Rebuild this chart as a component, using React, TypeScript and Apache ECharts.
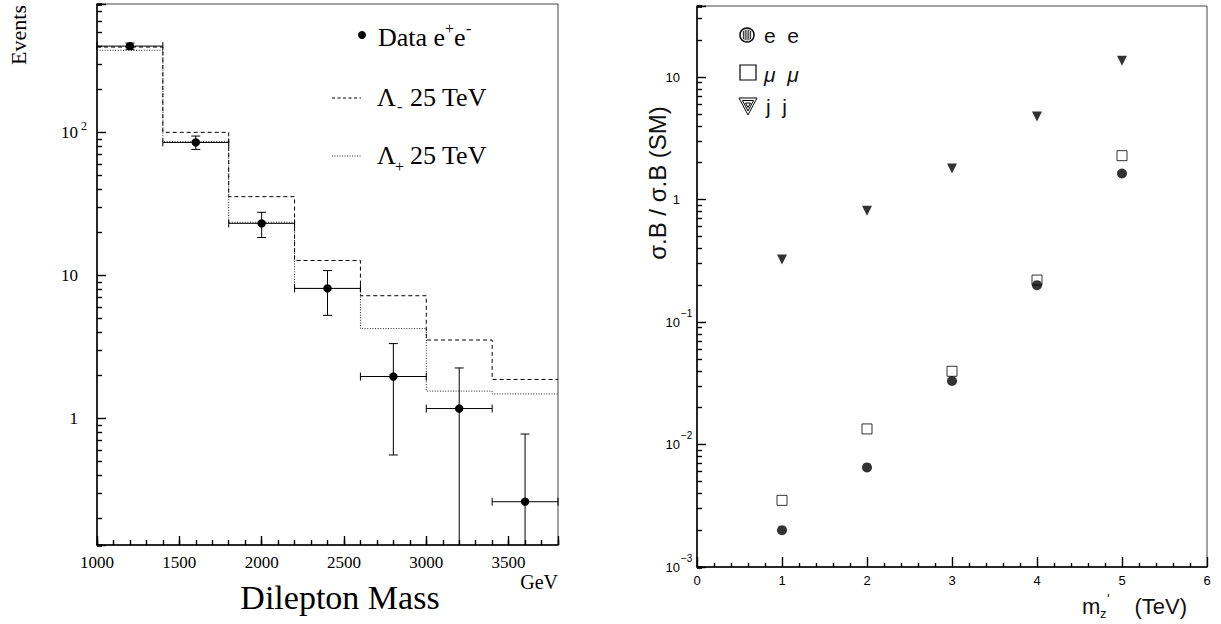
import React, { useEffect, useRef } from "react";
import * as echarts from "echarts";

// ---------- Left panel: dilepton mass spectrum ----------
const binEdges = [1000, 1400, 1800, 2200, 2600, 3000, 3400, 3800];
const lambdaMinus25 = [395, 100, 35.5, 12.7, 7.2, 3.53, 1.87];
const lambdaPlus25 = [375, 86, 23.5, 8.1, 4.24, 1.55, 1.48];
const dataMass = [1200, 1600, 2000, 2400, 2800, 3200, 3600];
const dataEvents = [401, 85, 23.1, 8.1, 1.96, 1.17, 0.261];
const dataErrLow = [381, 76, 18.4, 5.25, 0.554, 0, 0];
const dataErrHigh = [421, 94.2, 27.6, 10.8, 3.33, 2.25, 0.776];

const leftXLabelValues = [1000, 1500, 2000, 2500, 3000, 3500];
const leftYLabelValues = [1, 10, 100];
const leftYLabelBase = ["1", "10", "10"];
const leftYLabelExp = ["", "", "2"];

// ---------- Right panel: sigma.B ratio vs Z' mass ----------
const zMass = [1, 2, 3, 4, 5];
const ratioEE = [0.002, 0.0065, 0.033, 0.2, 1.63];
const ratioMuMu = [0.0035, 0.0134, 0.0396, 0.22, 2.28];
const ratioJJ = [0.324, 0.81, 1.79, 4.75, 13.6];

const rightXLabelValues = [0, 1, 2, 3, 4, 5, 6];
const rightYLabelValues = [0.001, 0.01, 0.1, 1, 10];
const rightYLabelBase = ["10", "10", "10", "1", "10"];
const rightYLabelExp = ["\u22123", "\u22122", "\u22121", "", ""];

// minor-tick multipliers inside each decade of the log axes
const logMinorMultipliers = [2, 3, 4, 5, 6, 7, 8, 9];

const LX = [1000, 3800];
const LY = [0.13, 790];
const RX = [0, 6];
const RY = [0.001, 38];

const SERIF = "'Liberation Serif', 'Times New Roman', serif";
const SANS = "'Liberation Sans', Arial, sans-serif";

function xLabelSeries(xi: number, yi: number, values: number[], yVal: number, dy: number, font: string, size: number) {
  return {
    type: "custom",
    xAxisIndex: xi,
    yAxisIndex: yi,
    silent: true,
    clip: false,
    z: 5,
    data: values.map((v) => [v, yVal]),
    renderItem: (_p: any, api: any) => {
      const p = api.coord([api.value(0), api.value(1)]);
      return {
        type: "text",
        x: p[0],
        y: p[1] + dy,
        style: {
          text: String(api.value(0)),
          fill: "#000",
          fontFamily: font,
          fontSize: size,
          align: "center",
          verticalAlign: "middle",
        },
      };
    },
  };
}

function yLabelSeries(
  xi: number, yi: number, values: number[], base: string[], exp: string[], xVal: number,
  gap: number, expDx: number, expDy: number, font: string, size: number, expSize: number
) {
  return {
    type: "custom",
    xAxisIndex: xi,
    yAxisIndex: yi,
    silent: true,
    clip: false,
    z: 5,
    data: values.map((v) => [xVal, v]),
    renderItem: (params: any, api: any) => {
      const i = params.dataIndex;
      const p = api.coord([api.value(0), api.value(1)]);
      const children: any[] = [
        {
          type: "text",
          x: p[0] - gap,
          y: p[1],
          style: { text: base[i], fill: "#000", fontFamily: font, fontSize: size, align: "right", verticalAlign: "middle" },
        },
      ];
      if (exp[i]) {
        children.push({
          type: "text",
          x: p[0] - gap + expDx,
          y: p[1] + expDy,
          style: { text: exp[i], fill: "#000", fontFamily: font, fontSize: expSize, align: "left", verticalAlign: "middle" },
        });
      }
      return { type: "group", children };
    },
  };
}

export default function App() {
  const ref = useRef<HTMLDivElement>(null);

  useEffect(() => {
    if (!ref.current) return;
    const chart = echarts.init(ref.current, null, { renderer: "svg" });

    const axisLine = { show: true, onZero: false, lineStyle: { color: "#000", width: 1.5 } };
    const noLine = { show: false };
    const hidden = { show: false };
    const tick = (len: number) => ({ show: true, inside: true, length: len, lineStyle: { color: "#000", width: 1.4 } });

    const histData = (vals: number[]) => binEdges.map((e, i) => [e, vals[Math.min(i, vals.length - 1)]]);

    // y axes: 0 = left main, 1..8 = left minor-tick axes, then right main, then right minor-tick axes
    const yAxes: any[] = [];
    yAxes.push({
      type: "log", logBase: 10, gridIndex: 0, position: "left", min: LY[0], max: LY[1], z: 10,
      axisLine, axisTick: tick(9), axisLabel: hidden, splitLine: hidden,
    });
    logMinorMultipliers.forEach((m) => {
      yAxes.push({
        type: "log", logBase: 10, gridIndex: 0, position: "left", offset: 0, min: LY[0] / m, max: LY[1] / m, z: 10,
        axisLine: noLine, axisTick: tick(5), axisLabel: hidden, splitLine: hidden,
      });
    });
    const RIGHT_Y = yAxes.length;
    yAxes.push({
      type: "log", logBase: 10, gridIndex: 1, position: "left", min: RY[0], max: RY[1], z: 10,
      axisLine, axisTick: tick(9), axisLabel: hidden, splitLine: hidden,
    });
    logMinorMultipliers.forEach((m) => {
      yAxes.push({
        type: "log", logBase: 10, gridIndex: 1, position: "left", offset: 0, min: RY[0] / m, max: RY[1] / m, z: 10,
        axisLine: noLine, axisTick: tick(5), axisLabel: hidden, splitLine: hidden,
      });
    });

    const xAxes: any[] = [
      {
        type: "value", gridIndex: 0, position: "bottom", min: LX[0], max: LX[1], interval: 500, z: 10,
        axisLine, axisTick: tick(9), axisLabel: hidden, splitLine: hidden,
      },
      {
        type: "value", gridIndex: 0, position: "bottom", offset: 0, min: LX[0], max: LX[1], interval: 100, z: 10,
        axisLine: noLine, axisTick: tick(5), axisLabel: hidden, splitLine: hidden,
      },
      {
        type: "value", gridIndex: 1, position: "bottom", min: RX[0], max: RX[1], interval: 1, z: 10,
        axisLine, axisTick: tick(10),
        minorTick: { show: true, splitNumber: 5, length: 4, lineStyle: { color: "#000", width: 1.4 } },
        axisLabel: hidden, splitLine: hidden, minorSplitLine: hidden,
      },
    ];
    const RIGHT_X = 2;

    const graphics: any[] = [
      // left titles
      {
        type: "text", x: 18, y: 35, rotation: Math.PI / 2,
        style: { text: "Events", fontFamily: SERIF, fontSize: 22, fill: "#000", align: "center", verticalAlign: "middle" },
      },
      {
        type: "text", x: 340, y: 597,
        style: { text: "Dilepton Mass", fontFamily: SERIF, fontSize: 34, fill: "#000", align: "center", verticalAlign: "middle" },
      },
      {
        type: "text", x: 558, y: 582,
        style: { text: "GeV", fontFamily: SERIF, fontSize: 20, fill: "#000", align: "right", verticalAlign: "middle" },
      },
      // left legend
      { type: "circle", shape: { cx: 362, cy: 35, r: 4 }, style: { fill: "#000" } },
      { type: "text", x: 378, y: 37, style: { text: "Data e", fontFamily: SERIF, fontSize: 26, fill: "#000", align: "left", verticalAlign: "middle" } },
      { type: "text", x: 445, y: 28, style: { text: "+", fontFamily: SERIF, fontSize: 16, fill: "#000", align: "left", verticalAlign: "middle" } },
      { type: "text", x: 454, y: 37, style: { text: "e", fontFamily: SERIF, fontSize: 26, fill: "#000", align: "left", verticalAlign: "middle" } },
      { type: "text", x: 466, y: 28, style: { text: "-", fontFamily: SERIF, fontSize: 16, fill: "#000", align: "left", verticalAlign: "middle" } },

      { type: "line", shape: { x1: 332, y1: 98, x2: 361, y2: 98 }, style: { stroke: "#000", lineWidth: 1, lineDash: [3, 2.5] } },
      { type: "text", x: 377, y: 97, style: { text: "\u039B", fontFamily: SERIF, fontSize: 26, fill: "#000", align: "left", verticalAlign: "middle" } },
      { type: "text", x: 397, y: 106, style: { text: "-", fontFamily: SERIF, fontSize: 16, fill: "#000", align: "left", verticalAlign: "middle" } },
      { type: "text", x: 410, y: 97, style: { text: "25 TeV", fontFamily: SERIF, fontSize: 26, fill: "#000", align: "left", verticalAlign: "middle" } },

      { type: "line", shape: { x1: 332, y1: 156, x2: 361, y2: 156 }, style: { stroke: "#222", lineWidth: 1, lineDash: [1, 1.5] } },
      { type: "text", x: 377, y: 155, style: { text: "\u039B", fontFamily: SERIF, fontSize: 26, fill: "#000", align: "left", verticalAlign: "middle" } },
      { type: "text", x: 395, y: 166, style: { text: "+", fontFamily: SERIF, fontSize: 16, fill: "#000", align: "left", verticalAlign: "middle" } },
      { type: "text", x: 410, y: 155, style: { text: "25 TeV", fontFamily: SERIF, fontSize: 26, fill: "#000", align: "left", verticalAlign: "middle" } },

      // right titles
      {
        type: "text", x: 657, y: 183, rotation: Math.PI / 2,
        style: { text: "\u03C3.B / \u03C3.B (SM)", fontFamily: SANS, fontSize: 24, fill: "#111", align: "center", verticalAlign: "middle" },
      },
      { type: "text", x: 1082, y: 606, style: { text: "m", fontFamily: SANS, fontSize: 22, fill: "#111", align: "left", verticalAlign: "middle" } },
      { type: "text", x: 1100, y: 613, style: { text: "z", fontFamily: SANS, fontSize: 13, fill: "#111", align: "left", verticalAlign: "middle" } },
      { type: "text", x: 1107, y: 599, style: { text: "'", fontFamily: SANS, fontSize: 14, fill: "#111", align: "left", verticalAlign: "middle" } },
      { type: "text", x: 1187, y: 606, style: { text: "(TeV)", fontFamily: SANS, fontSize: 22, fill: "#111", align: "right", verticalAlign: "middle" } },

      // right legend
      { type: "circle", shape: { cx: 747, cy: 35, r: 7 }, style: { fill: "#fff", stroke: "#000", lineWidth: 1.5 } },
      ...[-3.6, -1.8, 0, 1.8, 3.6].map((dx) => {
        const h = Math.sqrt(5.6 * 5.6 - dx * dx);
        return { type: "line", shape: { x1: 747 + dx, y1: 35 - h, x2: 747 + dx, y2: 35 + h }, style: { stroke: "#333", lineWidth: 1.1 } };
      }),
      { type: "text", x: 764, y: 35, style: { text: "e  e", fontFamily: SANS, fontSize: 21, fill: "#111", align: "left", verticalAlign: "middle" } },
      { type: "rect", shape: { x: 740, y: 65, width: 16, height: 15 }, style: { fill: "#fff", stroke: "#000", lineWidth: 1.2 } },
      { type: "text", x: 764, y: 74, style: { text: "\u03BC  \u03BC", fontFamily: SANS, fontStyle: "italic", fontSize: 21, fill: "#111", align: "left", verticalAlign: "middle" } },
      { type: "polygon", shape: { points: [[739, 98], [757, 98], [748, 115]] }, style: { fill: "none", stroke: "#000", lineWidth: 1 } },
      { type: "polygon", shape: { points: [[742.5, 100.5], [753.5, 100.5], [748, 111]] }, style: { fill: "none", stroke: "#000", lineWidth: 1 } },
      { type: "polygon", shape: { points: [[745.5, 103], [750.5, 103], [748, 107.5]] }, style: { fill: "none", stroke: "#000", lineWidth: 1 } },
      { type: "text", x: 766, y: 106, style: { text: "j  j", fontFamily: SANS, fontSize: 21, fill: "#111", align: "left", verticalAlign: "middle" } },
    ];

    const option: any = {
      animation: false,
      backgroundColor: "#fff",
      textStyle: { fontFamily: SERIF },
      grid: [
        { left: 97, top: 4, width: 461, height: 541, show: true, borderColor: "#444", borderWidth: 1, backgroundColor: "rgba(0,0,0,0)", z: 0 },
        { left: 697, top: 6, width: 510, height: 561, show: true, borderColor: "#444", borderWidth: 1, backgroundColor: "rgba(0,0,0,0)", z: 0 },
      ],
      xAxis: xAxes,
      yAxis: yAxes,
      series: [
        {
          type: "line",
          xAxisIndex: 0,
          yAxisIndex: 0,
          step: "end",
          symbol: "none",
          silent: true,
          data: histData(lambdaPlus25),
          lineStyle: { color: "#222", width: 1, type: [1, 1.6] },
          z: 2,
        },
        {
          type: "line",
          xAxisIndex: 0,
          yAxisIndex: 0,
          step: "end",
          symbol: "none",
          silent: true,
          data: histData(lambdaMinus25),
          lineStyle: { color: "#000", width: 1, type: [4, 3] },
          z: 2,
        },
        {
          type: "custom",
          xAxisIndex: 0,
          yAxisIndex: 0,
          silent: true,
          clip: false,
          z: 4,
          data: dataMass.map((m, i) => [m, dataEvents[i], dataErrLow[i], dataErrHigh[i], binEdges[i], binEdges[i + 1]]),
          renderItem: (_p: any, api: any) => {
            const x = api.value(0);
            const y = api.value(1);
            const lo = api.value(2);
            const hi = api.value(3);
            const xl = api.value(4);
            const xr = api.value(5);
            const c = api.coord([x, y]);
            const l = api.coord([xl, y]);
            const r = api.coord([xr, y]);
            const top = api.coord([x, hi]);
            const hasLo = lo > LY[0];
            const bot = api.coord([x, hasLo ? lo : LY[0]]);
            const ls = { stroke: "#000", lineWidth: 1 };
            const children: any[] = [
              { type: "line", shape: { x1: l[0], y1: l[1], x2: r[0], y2: r[1] }, style: ls },
              { type: "line", shape: { x1: l[0], y1: l[1] - 4, x2: l[0], y2: l[1] + 4 }, style: ls },
              { type: "line", shape: { x1: r[0], y1: r[1] - 4, x2: r[0], y2: r[1] + 4 }, style: ls },
              { type: "line", shape: { x1: c[0], y1: top[1], x2: c[0], y2: bot[1] }, style: ls },
              { type: "line", shape: { x1: c[0] - 4.5, y1: top[1], x2: c[0] + 4.5, y2: top[1] }, style: ls },
            ];
            if (hasLo) {
              children.push({ type: "line", shape: { x1: c[0] - 4.5, y1: bot[1], x2: c[0] + 4.5, y2: bot[1] }, style: ls });
            }
            children.push({ type: "circle", shape: { cx: c[0], cy: c[1], r: 4.2 }, style: { fill: "#000" } });
            return { type: "group", children };
          },
        },
        xLabelSeries(0, 0, leftXLabelValues, LY[0], 17, SERIF, 17),
        yLabelSeries(0, 0, leftYLabelValues, leftYLabelBase, leftYLabelExp, LX[0], 19, 3, -6, SERIF, 17, 12),

        {
          type: "scatter",
          xAxisIndex: RIGHT_X,
          yAxisIndex: RIGHT_Y,
          silent: true,
          symbol: "rect",
          symbolSize: 10,
          itemStyle: { color: "#fff", borderColor: "#000", borderWidth: 1 },
          data: zMass.map((x, i) => [x, ratioMuMu[i]]),
          z: 3,
        },
        {
          type: "scatter",
          xAxisIndex: RIGHT_X,
          yAxisIndex: RIGHT_Y,
          silent: true,
          symbol: "circle",
          symbolSize: 10,
          itemStyle: { color: "#000" },
          data: zMass.map((x, i) => [x, ratioEE[i]]),
          z: 4,
        },
        {
          type: "scatter",
          xAxisIndex: RIGHT_X,
          yAxisIndex: RIGHT_Y,
          silent: true,
          symbol: "triangle",
          symbolRotate: 180,
          symbolSize: [10, 10],
          itemStyle: { color: "#000" },
          data: zMass.map((x, i) => [x, ratioJJ[i]]),
          z: 4,
        },
        xLabelSeries(RIGHT_X, RIGHT_Y, rightXLabelValues, RY[0], 13, SANS, 13),
        yLabelSeries(RIGHT_X, RIGHT_Y, rightYLabelValues, rightYLabelBase, rightYLabelExp, RX[0], 17, 1, -9, SANS, 13, 10),
      ],
      graphic: graphics,
    };

    chart.setOption(option);
    return () => chart.dispose();
  }, []);

  return (
    <div
      ref={ref}
      style={{ position: "fixed", left: 0, top: 0, width: 1221, height: 624, background: "#fff" }}
    />
  );
}
